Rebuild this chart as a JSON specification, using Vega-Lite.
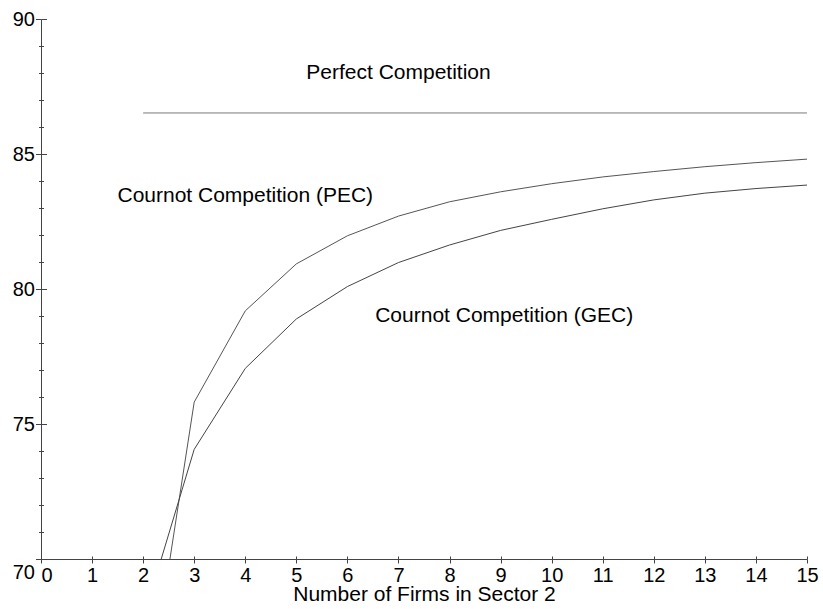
{
  "$schema": "https://vega.github.io/schema/vega-lite/v6.json",
  "width": 766,
  "height": 540,
  "autosize": "none",
  "padding": {"left": 41, "top": 19, "right": 16, "bottom": 50},
  "config": {"view": {"stroke": null}, "font": "Liberation Sans", "text": {"font": "Liberation Sans"}},
  "datasets": {
    "curves": [
      {"series": "Perfect", "n": 2, "v": 86.52},
      {"series": "Perfect", "n": 15, "v": 86.52},
      {"series": "PEC", "n": 2, "v": 63.58},
      {"series": "PEC", "n": 3, "v": 75.81},
      {"series": "PEC", "n": 4, "v": 79.19},
      {"series": "PEC", "n": 5, "v": 80.93},
      {"series": "PEC", "n": 6, "v": 81.97},
      {"series": "PEC", "n": 7, "v": 82.7},
      {"series": "PEC", "n": 8, "v": 83.23},
      {"series": "PEC", "n": 9, "v": 83.6},
      {"series": "PEC", "n": 10, "v": 83.9},
      {"series": "PEC", "n": 11, "v": 84.15},
      {"series": "PEC", "n": 12, "v": 84.35},
      {"series": "PEC", "n": 13, "v": 84.53},
      {"series": "PEC", "n": 14, "v": 84.68},
      {"series": "PEC", "n": 15, "v": 84.81},
      {"series": "GEC", "n": 2, "v": 67.77},
      {"series": "GEC", "n": 3, "v": 74.06},
      {"series": "GEC", "n": 4, "v": 77.06},
      {"series": "GEC", "n": 5, "v": 78.89},
      {"series": "GEC", "n": 6, "v": 80.09},
      {"series": "GEC", "n": 7, "v": 80.98},
      {"series": "GEC", "n": 8, "v": 81.63},
      {"series": "GEC", "n": 9, "v": 82.17},
      {"series": "GEC", "n": 10, "v": 82.58},
      {"series": "GEC", "n": 11, "v": 82.97},
      {"series": "GEC", "n": 12, "v": 83.3},
      {"series": "GEC", "n": 13, "v": 83.55},
      {"series": "GEC", "n": 14, "v": 83.72},
      {"series": "GEC", "n": 15, "v": 83.85}
    ],
    "labels": [
      {"n": 7.0, "v": 87.78, "label": "Perfect Competition"},
      {"n": 4.0, "v": 83.23, "label": "Cournot Competition (PEC)"},
      {"n": 9.07, "v": 78.79, "label": "Cournot Competition (GEC)"}
    ]
  },
  "resolve": {"axis": {"x": "independent", "y": "independent"}},
  "layer": [
    {
      "data": {"name": "curves"},
      "mark": {"type": "line", "clip": true, "strokeWidth": 1},
      "encoding": {
        "x": {
          "field": "n", "type": "quantitative",
          "scale": {"domain": [0, 15], "nice": false, "zero": false},
          "axis": {
            "orient": "bottom",
            "values": [0,1,2,3,4,5,6,7,8,9,10,11,12,13,14,15],
            "grid": false,
            "domainColor": "#444", "tickColor": "#444",
            "tickSize": 4, "labelPadding": 2,
            "labelFontSize": 20, "labelColor": "#000", "labelFont": "Liberation Sans",
            "labelAlign": {"condition": {"test": "datum.value === 0", "value": "left"}, "value": "center"},
            "labelFlush": false, "labelOverlap": false,
            "title": "Number of Firms in Sector 2",
            "titleFontSize": 21, "titleFontWeight": "normal", "titleColor": "#000", "titleFont": "Liberation Sans",
            "titleBaseline": "alphabetic", "titleY": 41.5
          }
        },
        "y": {
          "field": "v", "type": "quantitative",
          "scale": {"domain": [70, 90], "nice": false, "zero": false},
          "axis": {
            "orient": "left",
            "values": [70,71,72,73,74,75,76,77,78,79,80,81,82,83,84,85,86,87,88,89,90],
            "grid": false,
            "domainColor": "#444", "tickColor": "#444",
            "tickSize": {"condition": {"test": "datum.value % 5 === 0", "value": 5.5}, "value": 2.5},
            "labelPadding": 1,
            "labelExpr": "datum.value % 5 === 0 ? datum.label : ''",
            "labelFontSize": 20, "labelColor": "#000", "labelFont": "Liberation Sans",
            "labelOffset": {"condition": {"test": "datum.value === 70", "value": 13}, "value": 0},
            "labelOverlap": false, "labelFlush": false,
            "title": null
          }
        },
        "detail": {"field": "series"},
        "color": {
          "field": "series", "type": "nominal", "legend": null,
          "scale": {"domain": ["Perfect", "PEC", "GEC"], "range": ["#7a7a7a", "#555555", "#444444"]}
        }
      }
    },
    {
      "data": {"name": "labels"},
      "mark": {"type": "text", "fontSize": 21, "align": "center", "baseline": "alphabetic", "color": "#000", "font": "Liberation Sans"},
      "encoding": {
        "x": {
          "field": "n", "type": "quantitative",
          "axis": {
            "orient": "bottom",
            "values": [0,1,2,3,4,5,6,7,8,9,10,11,12,13,14,15],
            "grid": false, "domain": false, "labels": false, "title": null,
            "tickColor": "#444", "tickSize": -3
          }
        },
        "y": {
          "field": "v", "type": "quantitative",
          "axis": {
            "orient": "left",
            "values": [70,71,72,73,74,75,76,77,78,79,80,81,82,83,84,85,86,87,88,89,90],
            "grid": false, "domain": false, "labels": false, "title": null,
            "tickColor": "#444",
            "tickSize": {"condition": {"test": "datum.value % 5 === 0", "value": -5.5}, "value": -2.5}
          }
        },
        "text": {"field": "label"}
      }
    }
  ]
}
